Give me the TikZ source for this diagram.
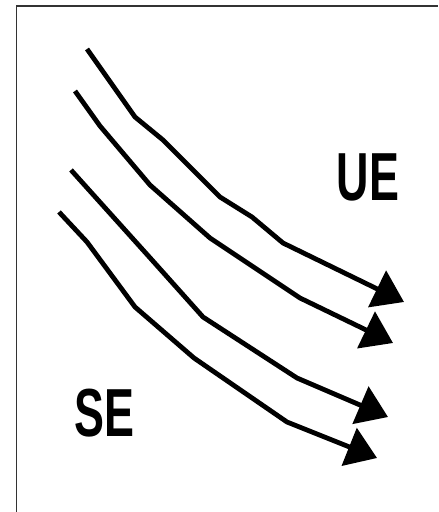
\documentclass[tikz,border=0pt]{standalone}
\usepackage{fontspec}
\setmainfont{Liberation Sans}
\usetikzlibrary{arrows.meta}

\begin{document}
\begin{tikzpicture}[
      x=0.5pt, y=-0.5pt,
      frame/.style={line width=0.75pt,black!80},
      flow/.style={line width=2.4pt,-{Triangle[length=15pt,width=20pt]}},
      tag/.style={font=\bfseries\fontsize{34}{34}\selectfont,inner sep=0pt,xscale=0.66,transform shape},
      ]
      \useasboundingbox (0,0) rectangle (438,512);
      \draw[frame] (16.5,512) -- (16.5,6) -- (438,6);

      \draw[flow] (87,49) -- (135,117) -- (163,140) -- (220,197) -- (252,217) -- (283,243) -- (404,302);
      \draw[flow] (75,91) -- (100,126) -- (150,185) -- (210,238) -- (300,298) -- (393,343);
      \draw[flow] (71,170) -- (107,210) -- (152,260) -- (203,317) -- (297,378) -- (388,417);
      \draw[flow] (59,212) -- (87,242) -- (135,307) -- (194,358) -- (287,422) -- (377,458);

      \node[tag] (ue) at (368,177) {UE};
      \node[tag] (se) at (104,413) {SE};
    \end{tikzpicture}
\end{document}
